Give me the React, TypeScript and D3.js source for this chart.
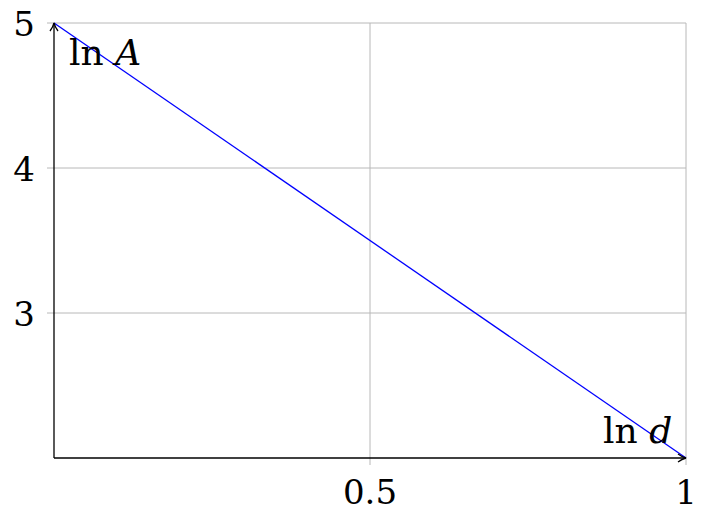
import React from "react";
import * as d3 from "d3";

const xTicks = [0.5, 1];
const xTickLabels = ["0.5", "1"];
const yTicks = [3, 4, 5];
const yTickLabels = ["3", "4", "5"];
const lineX = [0, 1];
const lineY = [5, 2];

const W = 701, H = 515;
const M = { left: 54, right: 15, top: 23, bottom: 57 };

export default function App() {
  const x = d3.scaleLinear().domain([0, 1]).range([M.left, W - M.right]);
  const y = d3.scaleLinear().domain([2, 5]).range([H - M.bottom, M.top]);
  const pts: [number, number][] = lineX.map((v, i) => [v, lineY[i]]);
  const line = d3.line<[number, number]>().x(d => x(d[0])).y(d => y(d[1]));
  const font = "DejaVu Serif";
  const x0 = x(0), y0 = y(2);
  return (
    <svg width={W} height={H} style={{ position: "absolute", left: 0, top: 0, background: "#fff" }}>
      <defs>
        <marker id="arr" viewBox="0 0 10 10" refX="9" refY="5" markerWidth="10" markerHeight="10" markerUnits="userSpaceOnUse" orient="auto">
          <path d="M1,1 Q5,4 9,5 Q5,6 1,9" fill="none" stroke="#000" strokeWidth="1.3" />
        </marker>
      </defs>
      {xTicks.map(t => (
        <line key={"gx" + t} x1={x(t)} x2={x(t)} y1={y(5)} y2={y0 + 7} stroke="#b8b8b8" strokeWidth={1} />
      ))}
      {yTicks.map(t => (
        <line key={"gy" + t} x1={x0 - 7} x2={x(1)} y1={y(t)} y2={y(t)} stroke="#b8b8b8" strokeWidth={1} />
      ))}
      <path d={line(pts) || ""} fill="none" stroke="#0000ff" strokeWidth={1.3} />
      <line x1={x0} x2={x(1)} y1={y0} y2={y0} stroke="#000" strokeWidth={1.3} markerEnd="url(#arr)" />
      <line x1={x0} x2={x0} y1={y0} y2={y(5)} stroke="#000" strokeWidth={1.3} markerEnd="url(#arr)" />
      {xTicks.map((t, i) => (
        <text key={"tx" + t} x={x(t)} y={y0 + 46} textAnchor="middle" fontFamily={font} fontSize={34}>{xTickLabels[i]}</text>
      ))}
      {yTicks.map((t, i) => (
        <text key={"ty" + t} x={x0 - 19} y={y(t) + 13} textAnchor="end" fontFamily={font} fontSize={34}>{yTickLabels[i]}</text>
      ))}
      <text x={69} y={65} fontFamily={font} fontSize={36}>ln <tspan fontStyle="italic">A</tspan></text>
      <text x={603} y={443} fontFamily={font} fontSize={36}>ln <tspan fontStyle="italic">d</tspan></text>
    </svg>
  );
}
